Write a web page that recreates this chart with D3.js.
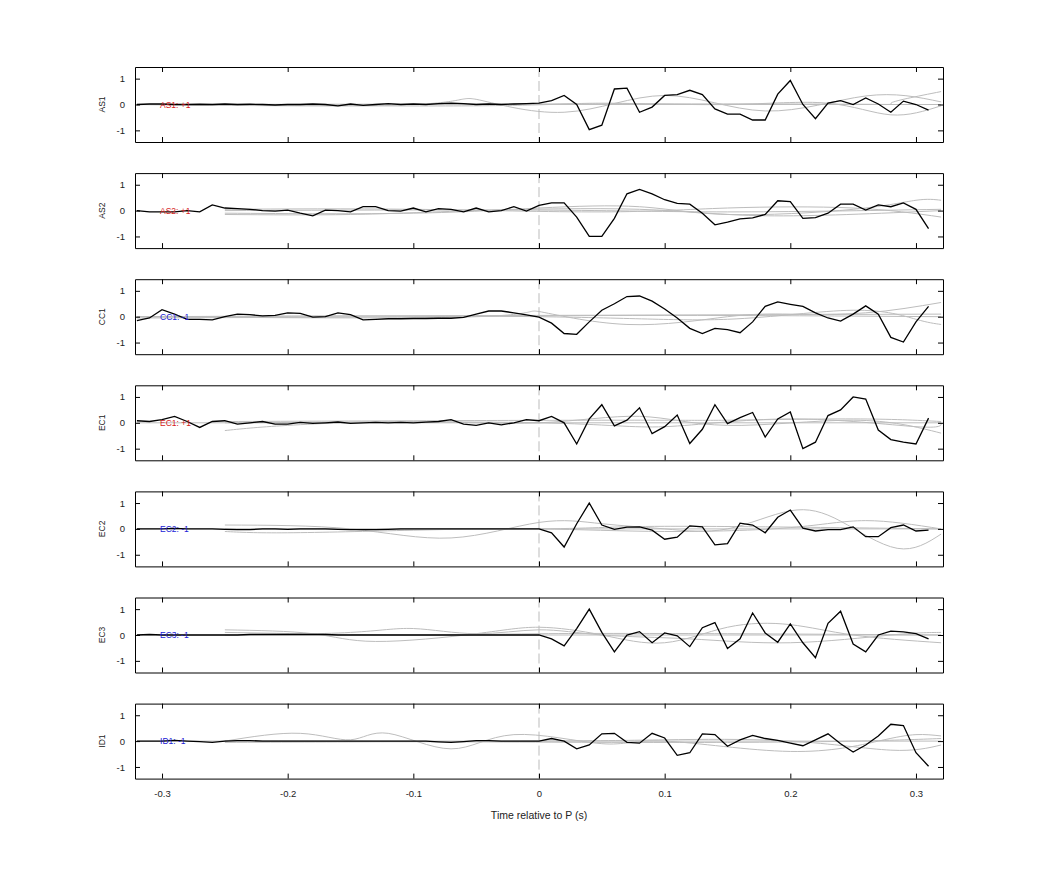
<!DOCTYPE html>
<html>
<head>
<meta charset="utf-8">
<script src="https://cdn.jsdelivr.net/npm/d3@7"></script>
<style>
  body { margin: 0; background: #fff; }
  text { font-family: "Liberation Sans", Arial, sans-serif; }
</style>
</head>
<body>
<svg width="1042" height="875"></svg>
<script>
// channel names and the marker text shown in each panel
const channels = ["AS1", "AS2", "CC1", "EC1", "EC2", "EC3", "ID1"];
const markers = ["AS1: +1", "AS2: +1", "CC1: -1", "EC1: +1", "EC2: -1", "EC3: -1", "ID1: -1"];
const markerColors = ["#d62020", "#d62020", "#2020d6", "#d62020", "#2020d6", "#2020d6", "#2020d6"];

// black traces, sampled every 0.01 s starting at -0.32 s
const blackAS1 = [0,0.02,0.02,0,0,0.01,0,0.02,0,0.01,0,-0.02,0,0,0.02,0,-0.05,0.02,-0.03,0,0.03,0,0.02,0,0.03,0.05,0.03,0,0.02,0,0.02,0.03,
  0.05,0.15,0.35,0,-0.97,-0.8,0.6,0.63,-0.3,-0.1,0.35,0.38,0.55,0.38,-0.17,-0.37,-0.37,-0.6,-0.6,0.4,0.93,0,-0.55,0.05,0.15,0,0.25,0.02,-0.3,0.13,0,-0.22];
const blackAS2 = [0,-0.05,-0.05,-0.05,0,-0.05,0.22,0.1,0.08,0.05,0,-0.02,0.02,-0.1,-0.2,0.02,0,-0.05,0.15,0.15,0,-0.02,0.1,-0.05,0.08,0.05,-0.05,0.1,-0.05,0,0.15,-0.02,
  0.2,0.3,0.3,-0.25,-1.0,-1.0,-0.3,0.65,0.82,0.65,0.42,0.28,0.25,-0.1,-0.55,-0.45,-0.32,-0.28,-0.15,0.38,0.35,-0.3,-0.27,-0.1,0.25,0.25,0.02,0.22,0.15,0.3,0.05,-0.7];
const blackCC1 = [-0.15,-0.05,0.27,0.1,-0.1,-0.1,-0.12,0,0.1,0.08,0.03,0.05,0.15,0.13,-0.02,0,0.15,0.08,-0.12,-0.1,-0.08,-0.08,-0.07,-0.07,-0.06,-0.06,-0.03,0.1,0.22,0.22,0.15,0.07,
  -0.02,-0.25,-0.65,-0.68,-0.2,0.25,0.5,0.78,0.8,0.6,0.3,-0.05,-0.45,-0.65,-0.45,-0.5,-0.62,-0.2,0.4,0.57,0.48,0.4,0.15,-0.05,-0.17,0.1,0.42,0.1,-0.8,-0.98,-0.2,0.4];
const blackEC1 = [0.08,0.05,0.12,0.25,0.05,-0.18,0.05,0.08,-0.05,0,0.05,-0.05,-0.05,0.02,-0.02,0,0.03,-0.02,0,0.02,0,0.02,0,0.03,0.05,0.12,-0.05,-0.1,0,-0.08,0,0.12,
  0.08,0.25,0,-0.82,0.15,0.7,-0.12,0.1,0.58,-0.42,-0.15,0.3,-0.8,-0.25,0.7,-0.03,0.2,0.4,-0.55,0.15,0.42,-1.0,-0.75,0.28,0.5,1.0,0.92,-0.28,-0.65,-0.75,-0.82,0.18];
const blackEC2 = [0,0,0,0.02,0,0,0,-0.02,-0.03,-0.03,0,0,-0.02,0,0,0,-0.02,-0.03,-0.03,-0.03,-0.02,0,0,0,0,0,0,0,0,0,0,0,
  0,-0.15,-0.7,0.2,1.0,0.15,-0.02,0.07,0.08,-0.05,-0.4,-0.32,0.12,0.08,-0.62,-0.57,0.22,0.15,-0.15,0.45,0.73,0.03,-0.08,-0.03,-0.03,0.08,-0.3,-0.3,0.05,0.15,-0.08,-0.05];
const blackEC3 = [0,0.02,0,0,0,0,0,0,0,0.02,0.02,0.02,0.02,0.02,0.02,0.02,0,0,0,0,0,0,0,0,0,0,0,0,0,0,0,0,
  0,-0.15,-0.42,0.25,1.0,0.1,-0.65,0,0.13,-0.3,0.08,-0.03,-0.45,0.28,0.48,-0.52,-0.15,0.85,0.08,-0.28,0.43,-0.3,-0.88,0.45,0.92,-0.35,-0.65,0,0.15,0.12,0.05,-0.15];
const blackID1 = [0,0,0,0.03,0,-0.02,-0.05,0,0.02,0.02,0,0,0,0,0,0,0,0,0,0,0,0,0,0,-0.03,-0.05,-0.02,0.02,0.02,0,0,0,
  0,0.1,0,-0.3,-0.15,0.28,0.3,-0.05,-0.08,0.3,0.12,-0.55,-0.45,0.28,0.25,-0.2,0.05,0.22,0.1,0.03,-0.08,-0.18,0.05,0.28,-0.1,-0.42,-0.15,0.2,0.65,0.6,-0.45,-0.97];
const blackTraces = [blackAS1, blackAS2, blackCC1, blackEC1, blackEC2, blackEC3, blackID1];

// gray traces: [time, value] key points
const grayAS1 = [
  [[-0.32,0],[-0.1,0],[-0.05,0.2],[0.02,-0.3],[0.1,0.35],[0.18,-0.25],[0.26,0.33],[0.32,0.1]],
  [[-0.32,0],[-0.05,-0.05],[0.05,0.05],[0.15,0],[0.23,0.05],[0.28,-0.4],[0.32,-0.05]],
  [[-0.32,0],[0.2,0.02],[0.28,0.05],[0.32,0.5]],
  [[-0.32,0],[0.32,0]]];
const grayAS2 = [
  [[-0.25,-0.1],[-0.1,-0.1],[0,0.1],[0.08,0.15],[0.15,-0.15],[0.25,0.05],[0.3,0.4],[0.32,0.4]],
  [[-0.25,0.05],[-0.1,0.05],[0.05,-0.05],[0.15,0.1],[0.25,0.1],[0.32,-0.25]],
  [[-0.25,0],[0,0.02],[0.15,-0.05],[0.32,0.05]],
  [[-0.25,-0.15],[-0.15,-0.15],[-0.05,0],[0.08,0.05],[0.18,-0.2],[0.32,0]]];
const grayCC1 = [
  [[-0.32,0],[-0.05,0],[0,0.2],[0.07,-0.3],[0.15,0],[0.2,0.1],[0.26,0.15],[0.32,0.55]],
  [[-0.32,0],[0,0],[0.15,-0.1],[0.25,0.25],[0.3,-0.1],[0.32,-0.3]],
  [[-0.32,0],[0.32,0.1]],
  [[-0.32,-0.05],[-0.1,0],[0.1,0.05],[0.32,0]]];
const grayEC1 = [
  [[-0.25,-0.3],[-0.2,-0.1],[-0.1,0.05],[0,0],[0.08,0.25],[0.15,-0.1],[0.25,0.1],[0.32,-0.4]],
  [[-0.25,0],[0,0],[0.1,-0.15],[0.2,0.15],[0.3,-0.15],[0.32,0]],
  [[-0.25,0.05],[0.05,0.1],[0.15,0.1],[0.25,0.15],[0.32,0.05]],
  [[-0.32,0],[0.32,0]]];
const grayEC2 = [
  [[-0.25,0.15],[-0.15,0],[-0.07,-0.35],[0,0.25],[0.05,0.2],[0.1,0],[0.15,0],[0.2,0.7],[0.24,0.3],[0.285,-0.75],[0.32,-0.2]],
  [[-0.25,-0.1],[-0.2,-0.15],[-0.1,-0.05],[0,0],[0.1,-0.1],[0.2,0.05],[0.26,0.32],[0.32,0]],
  [[-0.25,0],[0,0],[0.1,0.1],[0.32,0]],
  [[-0.32,0],[0.32,0]]];
const grayEC3 = [
  [[-0.25,0.2],[-0.18,0.05],[-0.13,-0.25],[-0.05,0.05],[0,0.3],[0.05,0],[0.1,-0.3],[0.15,0.3],[0.2,0.4],[0.25,0],[0.32,-0.3]],
  [[-0.25,0],[-0.15,0.1],[-0.1,0.25],[-0.05,0.05],[0,0.2],[0.05,0],[0.12,-0.15],[0.2,-0.3],[0.28,0],[0.32,0.1]],
  [[-0.25,0.1],[-0.1,0],[0,0.05],[0.15,0.05],[0.32,0]],
  [[-0.32,0],[0.32,0]]];
const grayID1 = [
  [[-0.25,0],[-0.19,0.3],[-0.15,0.05],[-0.12,0.3],[-0.07,-0.3],[-0.02,0.25],[0.05,-0.1],[0.1,0],[0.2,-0.4],[0.27,0],[0.3,0.25],[0.32,0.2]],
  [[-0.25,-0.05],[0,0],[0.1,0.05],[0.2,0],[0.28,-0.35],[0.32,-0.15]],
  [[-0.25,0.02],[0.15,-0.05],[0.32,0.1]],
  [[-0.32,0],[0.32,0]]];
const grayTraces = [grayAS1, grayAS2, grayCC1, grayEC1, grayEC2, grayEC3, grayID1];

const xTicks = [-0.3, -0.2, -0.1, 0, 0.1, 0.2, 0.3];
const yTicks = [-1, 0, 1];

const left = 135, right = 943, panelH = 75, firstTop = 67, step = 106.1;
const svg = d3.select("svg");
const plain = v => String(v); // hyphen minus, no trailing zeros

const x = d3.scaleLinear().domain([-0.3215, 0.3215]).range([left, right]);

channels.forEach((name, i) => {
  const top = firstTop + i * step;
  const y = d3.scaleLinear().domain([-1.45, 1.45]).range([top + panelH, top]);
  const g = svg.append("g");

  const clipId = "clip" + i;
  g.append("clipPath").attr("id", clipId)
    .append("rect").attr("x", left).attr("y", top).attr("width", right - left).attr("height", panelH);
  const plot = g.append("g").attr("clip-path", `url(#${clipId})`);

  // dashed zero line
  plot.append("line")
    .attr("x1", x(0)).attr("x2", x(0)).attr("y1", top).attr("y2", top + panelH)
    .attr("stroke", "#aaa").attr("stroke-width", 0.8).attr("stroke-dasharray", "10,4");

  const grayLine = d3.line().x(d => x(d[0])).y(d => y(d[1])).curve(d3.curveNatural);
  plot.selectAll(".gray").data(grayTraces[i]).join("path")
    .attr("d", grayLine).attr("fill", "none").attr("stroke", "#bdbdbd").attr("stroke-width", 1);

  const blackLine = d3.line().x((d, j) => x(-0.32 + j * 0.01)).y(d => y(d));
  plot.append("path").datum(blackTraces[i])
    .attr("d", blackLine).attr("fill", "none").attr("stroke", "#000").attr("stroke-width", 1.3);

  plot.append("text")
    .attr("x", x(-0.3) - 2).attr("y", y(0) + 3)
    .attr("font-size", 8.5).attr("fill", markerColors[i]).text(markers[i]);

  // axes, ticks inward
  const axB = g.append("g").attr("transform", `translate(0,${top + panelH})`)
    .call(d3.axisBottom(x).tickValues(xTicks).tickSizeInner(-5).tickSizeOuter(0)
      .tickFormat(i === channels.length - 1 ? plain : ""));
  const axT = g.append("g").attr("transform", `translate(0,${top})`)
    .call(d3.axisTop(x).tickValues(xTicks).tickSizeInner(-5).tickSizeOuter(0).tickFormat(""));
  const axL = g.append("g").attr("transform", `translate(${left},0)`)
    .call(d3.axisLeft(y).tickValues(yTicks).tickSizeInner(-5).tickSizeOuter(0).tickPadding(10).tickFormat(plain));
  const axR = g.append("g").attr("transform", `translate(${right},0)`)
    .call(d3.axisRight(y).tickValues(yTicks).tickSizeInner(-5).tickSizeOuter(0).tickFormat(""));
  [axB, axT, axL, axR].forEach(a => {
    a.select(".domain").attr("stroke", "#000");
    a.selectAll("line").attr("stroke", "#000");
    a.selectAll("text").attr("font-size", 9.5).attr("fill", "#222")
      .attr("font-family", "Liberation Sans, Arial, sans-serif");
  });
  axB.selectAll("text").attr("dy", "1.6em");

  g.append("text")
    .attr("transform", `translate(105,${top + panelH / 2}) rotate(-90)`)
    .attr("text-anchor", "middle").attr("font-size", 8.5).attr("fill", "#222").text(name);
});

svg.append("text")
  .attr("x", (left + right) / 2).attr("y", 819)
  .attr("text-anchor", "middle").attr("font-size", 10.5).attr("fill", "#222")
  .text("Time relative to P (s)");
</script>
</body>
</html>
